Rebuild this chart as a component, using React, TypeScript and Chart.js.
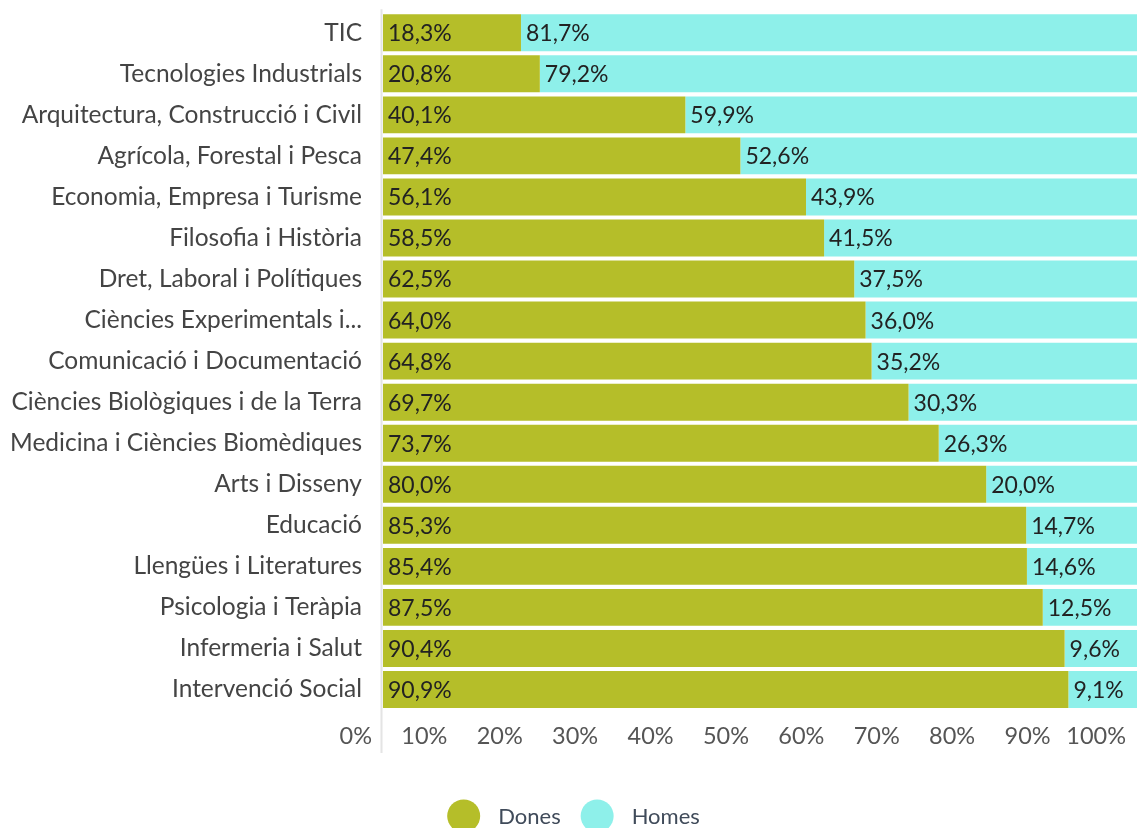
import React, { useEffect, useRef } from "react";
import { Chart, registerables } from "chart.js";

Chart.register(...registerables);

const categories = [
  "TIC",
  "Tecnologies Industrials",
  "Arquitectura, Construcció i Civil",
  "Agrícola, Forestal i Pesca",
  "Economia, Empresa i Turisme",
  "Filosofia i Història",
  "Dret, Laboral i Polítiques",
  "Ciències Experimentals i...",
  "Comunicació i Documentació",
  "Ciències Biològiques i de la Terra",
  "Medicina i Ciències Biomèdiques",
  "Arts i Disseny",
  "Educació",
  "Llengües i Literatures",
  "Psicologia i Teràpia",
  "Infermeria i Salut",
  "Intervenció Social",
];

const dones = [18.3, 20.8, 40.1, 47.4, 56.1, 58.5, 62.5, 64.0, 64.8, 69.7, 73.7, 80.0, 85.3, 85.4, 87.5, 90.4, 90.9];
const homes = [81.7, 79.2, 59.9, 52.6, 43.9, 41.5, 37.5, 36.0, 35.2, 30.3, 26.3, 20.0, 14.7, 14.6, 12.5, 9.6, 9.1];

const tickValues = [0, 10, 20, 30, 40, 50, 60, 70, 80, 90, 100];
const tickLabels = ["0%", "10%", "20%", "30%", "40%", "50%", "60%", "70%", "80%", "90%", "100%"];

const seriesNames = ["Dones", "Homes"];
const seriesColors = ["#b5be29", "#8ef0ea"];

const FONT = "Lato, 'Noto Sans', sans-serif";

const fmt = (v: number) => v.toFixed(1).replace(".", ",") + "%";

const customPlugin = {
  id: "custom",
  afterDatasetsDraw(chart: any) {
    const ctx = chart.ctx;
    const area = chart.chartArea;
    ctx.save();
    // data labels
    ctx.font = `23px ${FONT}`;
    ctx.fillStyle = "#222";
    ctx.textAlign = "left";
    ctx.textBaseline = "middle";
    chart.data.datasets.forEach((ds: any, di: number) => {
      const meta = chart.getDatasetMeta(di);
      meta.data.forEach((bar: any, i: number) => {
        const start = Math.min(bar.base, bar.x);
        ctx.fillText(fmt(ds.data[i]), start + 5, bar.y + 1);
      });
    });
    // axis line
    ctx.strokeStyle = "#e4e4e4";
    ctx.lineWidth = 2;
    ctx.beginPath();
    ctx.moveTo(area.left - 1.5, area.top - 3);
    ctx.lineTo(area.left - 1.5, area.bottom + 43);
    ctx.stroke();
    // x tick labels
    const xs = chart.scales.x;
    ctx.font = `23.5px ${FONT}`;
    ctx.fillStyle = "#555";
    ctx.textAlign = "right";
    tickValues.forEach((v, i) => {
      ctx.fillText(tickLabels[i], xs.getPixelForValue(v) - 11, area.bottom + 26);
    });
    // legend
    ctx.font = `22px ${FONT}`;
    const r = 16.5;
    const gapText = 18;
    const gapItem = 20;
    const widths = seriesNames.map((n) => 2 * r + gapText + ctx.measureText(n).width);
    const total = widths.reduce((a, b) => a + b, 0) + gapItem * (widths.length - 1);
    let x = chart.width / 2 + 5 - total / 2;
    const y = area.bottom + 106;
    seriesNames.forEach((n, i) => {
      ctx.fillStyle = seriesColors[i];
      ctx.beginPath();
      ctx.arc(x + r, y, r, 0, Math.PI * 2);
      ctx.fill();
      ctx.fillStyle = "#404b5a";
      ctx.textAlign = "left";
      ctx.fillText(n, x + 2 * r + gapText, y + 1);
      x += widths[i] + gapItem;
    });
    ctx.restore();
  },
};

export default function App() {
  const ref = useRef<HTMLCanvasElement>(null);
  useEffect(() => {
    if (!ref.current) return;
    const chart = new Chart(ref.current, {
      type: "bar",
      data: {
        labels: categories,
        datasets: [
          { label: seriesNames[0], data: dones, backgroundColor: seriesColors[0], barPercentage: 0.9, categoryPercentage: 1 },
          { label: seriesNames[1], data: homes, backgroundColor: seriesColors[1], barPercentage: 0.9, categoryPercentage: 1 },
        ],
      },
      options: {
        indexAxis: "y",
        animation: false,
        responsive: true,
        maintainAspectRatio: false,
        layout: { padding: { top: 11, bottom: 118, left: 0, right: 0 } },
        plugins: { legend: { display: false }, tooltip: { enabled: false } },
        scales: {
          x: { stacked: true, min: 0, max: 100, display: false },
          y: {
            stacked: true,
            grid: { display: false, drawTicks: true, tickLength: 21 },
            border: { display: false },
            ticks: { font: { family: FONT, size: 24.5, lineHeight: 1 }, color: "#444", padding: 0 },
            afterFit: (scale: any) => {
              scale.width = 383;
            },
          },
        },
      },
      plugins: [customPlugin],
    });
    return () => chart.destroy();
  }, []);
  return (
    <div style={{ position: "fixed", left: 0, top: 0, width: 1137, height: 828, background: "#fff" }}>
      <canvas ref={ref} />
    </div>
  );
}
